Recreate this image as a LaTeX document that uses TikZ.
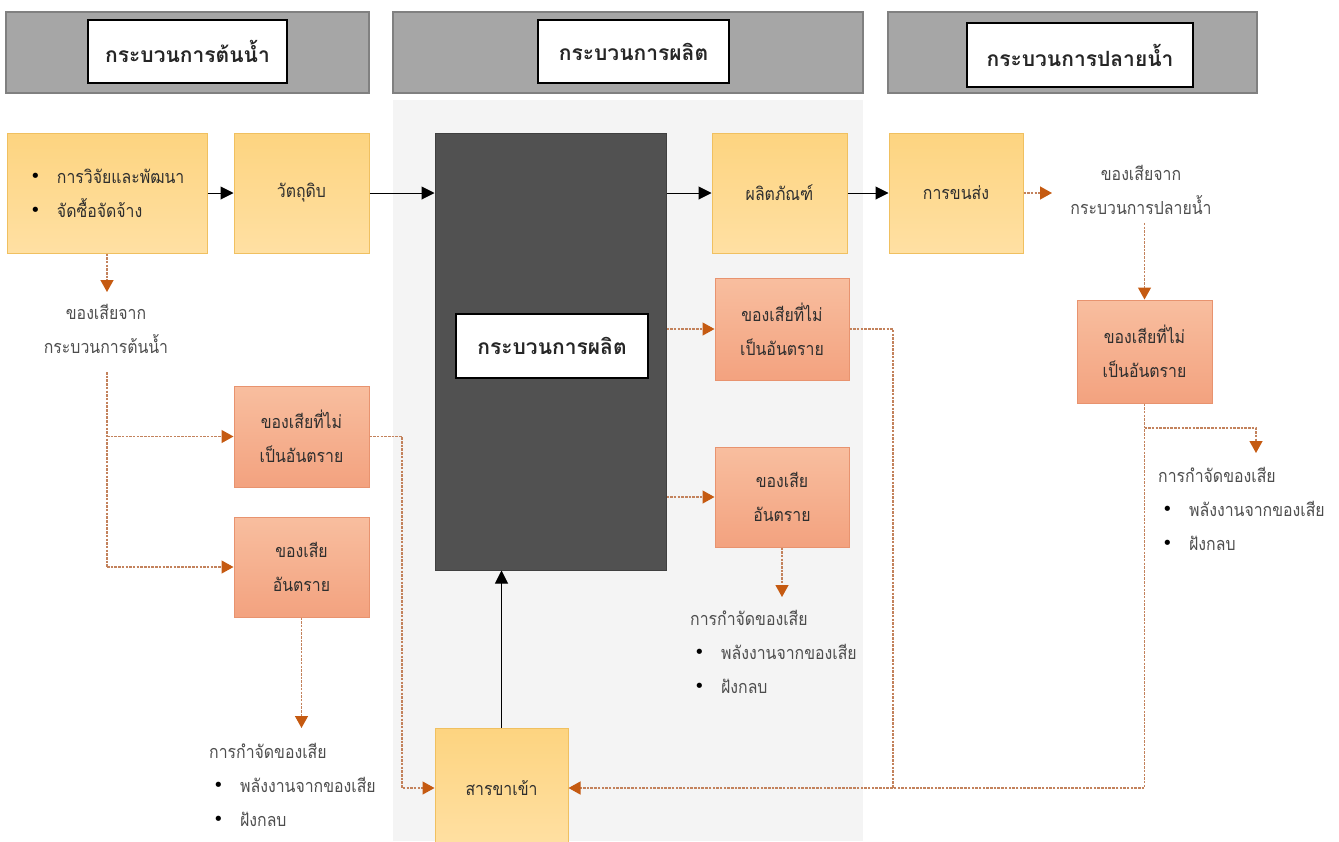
\documentclass[tikz,border=0pt]{standalone}
\usepackage{fontspec}
\setmainfont[Script=Thai,FakeStretch=0.88]{Loma}
\newfontfamily\titlefont[Script=Thai]{Loma}
\newfontfamily\symfont{DejaVu Sans}
\usetikzlibrary{arrows.meta,positioning}
\definecolor{barfill}{HTML}{A6A6A6}
\definecolor{barline}{HTML}{808080}
\definecolor{panel}{HTML}{F4F4F4}
\definecolor{yeltop}{HTML}{FDD480}
\definecolor{yelbot}{HTML}{FFE0A3}
\definecolor{yelline}{HTML}{F0C060}
\definecolor{wstop}{HTML}{F8BE9F}
\definecolor{wsbot}{HTML}{F3A27F}
\definecolor{wsline}{HTML}{E8936F}
\definecolor{procfill}{HTML}{515151}
\definecolor{wdash}{HTML}{C3825C}
\definecolor{wtip}{HTML}{C55A11}
\definecolor{ink}{HTML}{2E2E2E}
\newcommand{\bodyfont}{\fontsize{18}{34}\selectfont}
\newcommand{\itm}[1]{\makebox[27pt][l]{\raisebox{1pt}{\color{black}\symfont\fontsize{18}{18}\selectfont •}}#1}
\tikzstyle{bar}=[draw=barline,fill=barfill,line width=1.5pt,inner sep=0pt]
\tikzstyle{title}=[draw=black,fill=white,line width=1.5pt,text=black!85,font=\titlefont\bfseries\fontsize{21}{25}\selectfont]
\tikzstyle{yel}=[draw=yelline,top color=yeltop,bottom color=yelbot,line width=1pt,text=ink,font=\bodyfont,align=center]
\tikzstyle{waste}=[draw=wsline,top color=wstop,bottom color=wsbot,line width=1pt,text=ink,font=\bodyfont,align=center]
\tikzstyle{lbl}=[text=ink!85,font=\bodyfont,align=center,inner sep=0pt]
\tikzstyle{flow}=[-{Triangle[length=13pt,width=13pt]},line width=1pt,black]
\tikzstyle{wline}=[draw=wdash,line width=1.3pt,dash pattern=on 2.5pt off 1.2pt]
\tikzstyle{wflow}=[wline,-{Triangle[length=12pt,width=13pt,color=wtip]}]
\begin{document}
\begin{tikzpicture}[x=1pt,y=-1pt]
  \useasboundingbox (0,0) rectangle (1339,841);
  % production panel
  \fill[panel] (393,100) rectangle (863,841);
  % headers
  \node[bar,minimum width=363pt,minimum height=81pt] (barU) at (187.5,52.5) {};
  \node[title,minimum width=199pt,minimum height=63pt] (hdU) at (187.5,51.5) {กระบวนการต้นน้ำ};
  \node[bar,minimum width=470pt,minimum height=81pt] (barM) at (628,52.5) {};
  \node[title,minimum width=191pt,minimum height=63pt] (hdM) at (633.5,51.5) {กระบวนการผลิต};
  \node[bar,minimum width=369pt,minimum height=81pt] (barD) at (1072.5,52.5) {};
  \node[title,minimum width=226pt,minimum height=64pt] (hdD) at (1080,55) {กระบวนการปลายน้ำ};

  % top row
  \node[yel,minimum width=200pt,minimum height=120pt,text width=154pt,align=left] (rd) at (107,193) {\itm{การวิจัยและพัฒนา}\\\itm{จัดซื้อจัดจ้าง}};
  \node[yel,minimum width=135pt,minimum height=120pt] (raw) at (301.5,193) {วัตถุดิบ};
  \node[draw=black!75,fill=procfill,line width=1pt,minimum width=231pt,minimum height=437pt] (proc) at (550.5,351.5) {};
  \node[title,minimum width=192pt,minimum height=64pt] (hdP) at (552,346) {กระบวนการผลิต};
  \node[yel,minimum width=135pt,minimum height=120pt] (prod) at (779.5,193) {ผลิตภัณฑ์};
  \node[yel,minimum width=134pt,minimum height=120pt] (trans) at (956,193) {การขนส่ง};
  \node[yel,minimum width=133pt,minimum height=120pt] (input) at (501.5,788) {สารขาเข้า};

  % upstream waste
  \node[lbl] (wasteU) at (106,329) {ของเสียจาก\\กระบวนการต้นน้ำ};
  \node[waste,minimum width=135pt,minimum height=101pt] (nhL) at (301.5,436.5) {ของเสียที่ไม่\\เป็นอันตราย};
  \node[waste,minimum width=135pt,minimum height=100pt] (hzL) at (301.5,567) {ของเสีย\\อันตราย};
  \node[lbl,align=left,anchor=north west] (dispL) at (209,743) {การกำจัดของเสีย\\\hspace{4pt}\itm{พลังงานจากของเสีย}\\\hspace{4pt}\itm{ฝังกลบ}};

  % production waste
  \node[waste,minimum width=134pt,minimum height=102pt] (nhM) at (782,329) {ของเสียที่ไม่\\เป็นอันตราย};
  \node[waste,minimum width=134pt,minimum height=100pt] (hzM) at (782,497) {ของเสีย\\อันตราย};
  \node[lbl,align=left,anchor=north west] (dispM) at (690,610) {การกำจัดของเสีย\\\hspace{4pt}\itm{พลังงานจากของเสีย}\\\hspace{4pt}\itm{ฝังกลบ}};

  % downstream waste
  \node[lbl] (wasteD) at (1141,190) {ของเสียจาก\\กระบวนการปลายน้ำ};
  \node[waste,minimum width=135pt,minimum height=103pt] (nhR) at (1144.5,351.5) {ของเสียที่ไม่\\เป็นอันตราย};
  \node[lbl,align=left,anchor=north west] (dispR) at (1158,467) {การกำจัดของเสีย\\\hspace{4pt}\itm{พลังงานจากของเสีย}\\\hspace{4pt}\itm{ฝังกลบ}};

  % junctions
  \coordinate (tipD) at (1052,193);
  \coordinate (tU) at (107,292);
  \coordinate (sU) at (107,372);
  \coordinate (dL) at (301.5,728);
  \coordinate (jL) at (402,788);
  \coordinate (dM) at (782,597);
  \coordinate (jM) at (893,788);
  \coordinate (jR) at (1144.5,788);
  \coordinate (kR) at (1144.5,428);
  \coordinate (dR) at (1256,453);

  % main flow
  \draw[flow] (rd) -- (raw);
  \draw[flow] (raw.east) -- (raw.east -| proc.west);
  \draw[flow] (prod.west -| proc.east) -- (prod);
  \draw[flow] (prod) -- (trans);
  \draw[flow] (input.north) -- (input.north |- proc.south);

  % waste flow
  \draw[wflow] (rd.south) -- (tU);
  \draw[wline] (sU) -- (sU |- hzL.west);
  \draw[wflow] (sU |- nhL.west) -- (nhL.west);
  \draw[wflow] (sU |- hzL.west) -- (hzL.west);
  \draw[wflow] (hzL.south) -- (dL);
  \draw[wflow] (nhL.east) -| (jL) -- (input.west);
  \draw[wflow] (proc.east |- nhM.west) -- (nhM.west);
  \draw[wflow] (proc.east |- hzM.west) -- (hzM.west);
  \draw[wflow] (hzM.south) -- (dM);
  \draw[wline] (nhM.east) -| (jM);
  \draw[wflow] (trans.east) -- (tipD);
  \draw[wflow,shorten <=8pt] (wasteD.south -| nhR.north) -- (nhR.north);
  \draw[wflow] (nhR.south) -- (jR) -- (input.east);
  \draw[wflow] (kR) -| (dR);
\end{tikzpicture}
\end{document}
